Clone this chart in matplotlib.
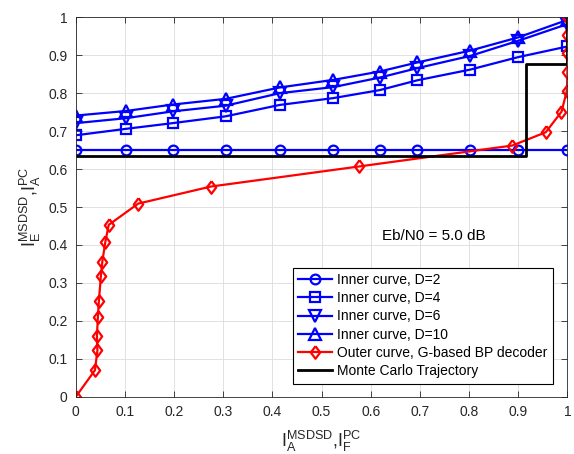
import numpy as np
import matplotlib.pyplot as plt

plt.rcParams['font.family'] = ['Liberation Sans', 'DejaVu Sans']
plt.rcParams['mathtext.default'] = 'regular'

# Eje de información a priori de las curvas internas
ia_inner = [0.0, 0.102, 0.197, 0.305, 0.415, 0.524, 0.618, 0.695, 0.802, 0.900, 1.0]

ie_d2 = [0.651, 0.651, 0.651, 0.651, 0.651, 0.651, 0.651, 0.651, 0.651, 0.651, 0.651]
ie_d4 = [0.689, 0.706, 0.721, 0.739, 0.769, 0.787, 0.808, 0.834, 0.862, 0.895, 0.923]
ie_d6 = [0.721, 0.734, 0.752, 0.767, 0.800, 0.816, 0.841, 0.866, 0.898, 0.938, 0.982]
ie_d10 = [0.741, 0.753, 0.770, 0.785, 0.815, 0.835, 0.857, 0.881, 0.912, 0.947, 0.993]

# Curva externa (decodificador BP basado en G)
ie_outer = [0.0, 0.039, 0.044, 0.043, 0.045, 0.047, 0.051, 0.054, 0.060, 0.067,
            0.127, 0.275, 0.577, 0.888, 0.956, 0.988, 0.999, 1.0, 1.0, 1.0, 1.0]
ia_outer = [0.0, 0.070, 0.122, 0.160, 0.211, 0.252, 0.317, 0.356, 0.407, 0.453,
            0.509, 0.554, 0.607, 0.662, 0.697, 0.751, 0.807, 0.855, 0.905, 0.953, 1.0]

# Trayectoria Monte Carlo
traj_x = [0.0, 0.916, 0.916, 1.0, 1.0]
traj_y = [0.635, 0.635, 0.876, 0.876, 1.0]

ticks = np.round(np.arange(0, 1.01, 0.1), 1)
tick_labels = ['0', '0.1', '0.2', '0.3', '0.4', '0.5', '0.6', '0.7', '0.8', '0.9', '1']

# rombo algo más estrecho que alto, como el de MATLAB
rombo = [(0, 1), (0.75, 0), (0, -1), (-0.75, 0), (0, 1)]

fig = plt.figure(figsize=(5.74, 4.54), dpi=100)
ax = fig.add_axes([0.132, 0.126, 0.8565, 0.836])

azul = (0, 0, 1)
rojo = (1, 0, 0)
lw = 1.6
ax.plot(ia_inner, ie_d2, '-o', color=azul, lw=lw, ms=7, mfc='none', mew=1.6, label='Inner curve, D=2')
ax.plot(ia_inner, ie_d4, '-s', color=azul, lw=lw, ms=6.5, mfc='none', mew=1.6, label='Inner curve, D=4')
ax.plot(ia_inner, ie_d6, '-v', color=azul, lw=lw, ms=8, mfc='none', mew=1.6, label='Inner curve, D=6')
ax.plot(ia_inner, ie_d10, '-^', color=azul, lw=lw, ms=8, mfc='none', mew=1.6, label='Inner curve, D=10')
ax.plot(ie_outer, ia_outer, '-', marker=rombo, color=rojo, lw=lw, ms=9, mfc='none', mew=1.6,
        label='Outer curve, G-based BP decoder')
ax.plot(traj_x, traj_y, '-', color='k', lw=2.0, label='Monte Carlo Trajectory')

ax.text(0.623, 0.424, 'Eb/N0 = 5.0 dB', fontsize=11, va='center', ha='left')

ax.set_xlim(0, 1)
ax.set_ylim(0, 1)
ax.set_xticks(ticks)
ax.set_yticks(ticks)
ax.set_xticklabels(tick_labels, fontsize=10, color='#262626')
ax.set_yticklabels(tick_labels, fontsize=10, color='#262626')
ax.tick_params(direction='in', length=4, width=0.6, top=True, right=True, colors='#262626', pad=6)
ax.grid(True, color='#dcdcdc', lw=0.6)
ax.set_axisbelow(True)
for s in ax.spines.values():
    s.set_color('#262626')
    s.set_linewidth(0.6)

ax.set_xlabel(r'I$_A^{MSDSD}$,I$_F^{PC}$', fontsize=13, color='#262626', labelpad=7)
ax.set_ylabel(r'I$_E^{MSDSD}$,I$_A^{PC}$', fontsize=13, color='#262626', labelpad=4)

leg = ax.legend(loc='lower right', bbox_to_anchor=(0.971, 0.035), borderaxespad=0,
                fontsize=10, handlelength=2.4, handletextpad=0.4, labelspacing=0.3,
                fancybox=False, framealpha=1, edgecolor='k', borderpad=0.4)
leg.get_frame().set_linewidth(0.8)

fig.savefig('out.png', dpi=100)
